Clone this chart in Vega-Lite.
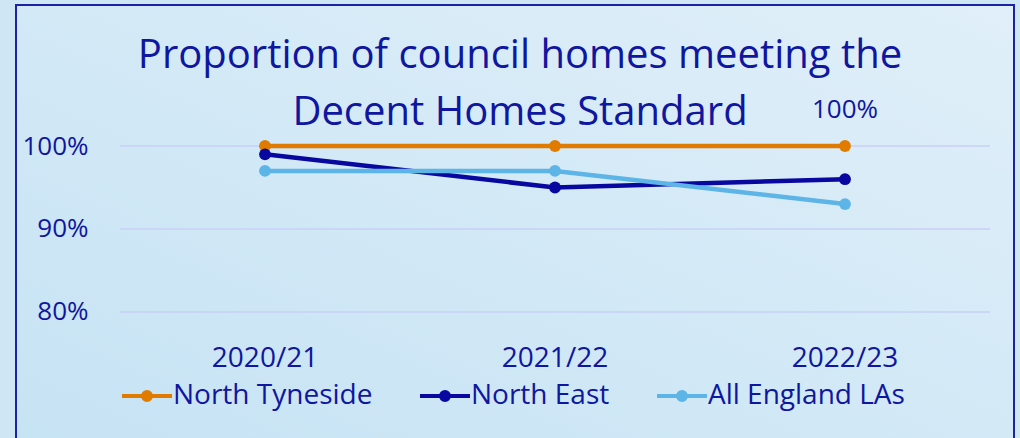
{
  "$schema": "https://vega.github.io/schema/vega-lite/v6.json",
  "width": 998,
  "height": 438,
  "autosize": "none",
  "padding": {"left": 16, "top": 5, "right": 6, "bottom": 0},
  "background": "#cfe6f5",
  "config": {
    "font": "Open Sans",
    "view": {
      "stroke": "#1b22a6",
      "strokeWidth": 2,
      "fill": {"gradient": "linear", "x1": 0, "y1": 1, "x2": 1, "y2": 0,
        "stops": [{"offset": 0, "color": "#c6e3f4"}, {"offset": 1, "color": "#e0eff9"}]}
    }
  },
  "title": {
    "text": ["Proportion of council homes meeting the", "Decent Homes Standard"],
    "fontSize": 40,
    "fontWeight": "normal",
    "color": "#0f16a0",
    "lineHeight": 57,
    "anchor": "middle",
    "offset": -128,
    "dx": 5
  },
  "datasets": {
    "grid": [{"v": 0.8}, {"v": 0.9}, {"v": 1.0}]
  },
  "data": {
    "values": [
      {"year": "2020/21", "series": "North Tyneside", "value": 1.00},
      {"year": "2021/22", "series": "North Tyneside", "value": 1.00},
      {"year": "2022/23", "series": "North Tyneside", "value": 1.00},
      {"year": "2020/21", "series": "North East", "value": 0.99},
      {"year": "2021/22", "series": "North East", "value": 0.95},
      {"year": "2022/23", "series": "North East", "value": 0.96},
      {"year": "2020/21", "series": "All England LAs", "value": 0.97},
      {"year": "2021/22", "series": "All England LAs", "value": 0.97},
      {"year": "2022/23", "series": "All England LAs", "value": 0.93}
    ]
  },
  "encoding": {
    "x": {
      "field": "year",
      "type": "nominal",
      "sort": ["2020/21", "2021/22", "2022/23"],
      "scale": {"type": "band", "paddingInner": 0, "paddingOuter": 0.2207, "align": 0.8125},
      "axis": {
        "title": null,
        "labelAngle": 0,
        "labelFontSize": 28,
        "labelColor": "#0f16a0",
        "labelPadding": 0,
        "tickSize": 0,
        "ticks": false,
        "domain": false,
        "grid": false,
        "offset": -99
      }
    },
    "y": {
      "field": "value",
      "type": "quantitative",
      "scale": {"domain": [0.642, 1.17], "nice": false, "zero": false},
      "axis": {
        "title": null,
        "values": [0.8, 0.9, 1.0],
        "format": ".0%",
        "labelFontSize": 26,
        "labelColor": "#0f16a0",
        "labelPadding": 0,
        "tickSize": 0,
        "ticks": false,
        "domain": false,
        "grid": false,
        "offset": -72
      }
    }
  },
  "layer": [
    {
      "data": {"name": "grid"},
      "mark": {"type": "rule", "stroke": "#c8cff7", "strokeWidth": 1.5},
      "encoding": {
        "x": {"datum": "2020/21", "bandPosition": 0},
        "x2": {"datum": "2022/23", "bandPosition": 1},
        "y": {"field": "v", "type": "quantitative"}
      }
    },
    {
      "mark": {"type": "line", "strokeWidth": 4.5, "point": {"filled": true, "size": 140}},
      "encoding": {
        "color": {
          "field": "series",
          "type": "nominal",
          "scale": {
            "domain": ["North Tyneside", "North East", "All England LAs"],
            "range": ["#e07b00", "#0808a0", "#5db4e6"]
          },
          "legend": {
            "title": null,
            "orient": "none",
            "direction": "horizontal",
            "legendX": 117,
            "legendY": 377,
            "padding": 0,
            "symbolType": "M-2.5,0H2.5M0.4,0A0.4,0.4 0 1 1 -0.4,0A0.4,0.4 0 1 1 0.4,0",
            "symbolSize": 400,
            "symbolStrokeWidth": 4,
            "labelFontSize": 28,
            "labelColor": "#0f16a0",
            "labelOffset": 12,
            "labelLimit": 0,
            "columnPadding": 39
          }
        }
      }
    },
    {
      "transform": [{"filter": "datum.series === 'North Tyneside' && datum.year === '2022/23'"}],
      "mark": {"type": "text", "fontSize": 26, "color": "#0f16a0", "dy": -36},
      "encoding": {
        "text": {"field": "value", "type": "quantitative", "format": ".0%"}
      }
    }
  ]
}
